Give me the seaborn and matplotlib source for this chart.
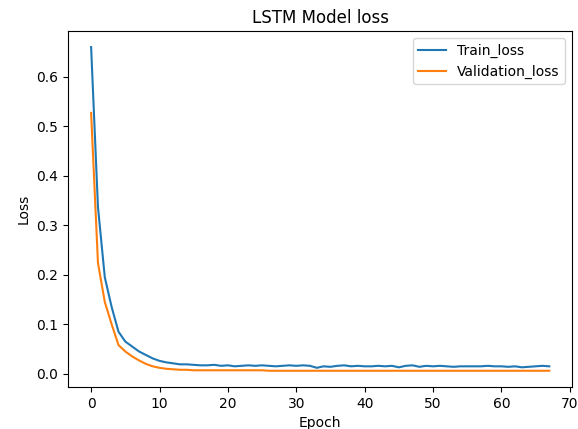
import matplotlib
matplotlib.use("Agg")
import matplotlib.pyplot as plt
import seaborn as sns
import pandas as pd

train_loss = [0.660, 0.337, 0.195, 0.135, 0.085, 0.065, 0.055, 0.045, 0.038, 0.031,
              0.026, 0.023, 0.021, 0.019, 0.019, 0.018, 0.017, 0.017, 0.018, 0.016,
              0.017, 0.015, 0.016, 0.017, 0.016, 0.017, 0.016, 0.015, 0.016, 0.017,
              0.016, 0.017, 0.016, 0.012, 0.015, 0.014, 0.016, 0.017, 0.015, 0.016,
              0.015, 0.015, 0.016, 0.015, 0.016, 0.013, 0.016, 0.017, 0.014, 0.016,
              0.015, 0.016, 0.015, 0.014, 0.015, 0.015, 0.015, 0.015, 0.016, 0.015,
              0.015, 0.014, 0.015, 0.013, 0.014, 0.015, 0.016, 0.015]
val_loss = [0.527, 0.224, 0.145, 0.100, 0.058, 0.045, 0.035, 0.027, 0.020, 0.015,
            0.012, 0.010, 0.009, 0.008, 0.008, 0.007, 0.007, 0.007, 0.007, 0.007,
            0.007, 0.007, 0.007, 0.007, 0.007, 0.007, 0.006, 0.006, 0.006, 0.006,
            0.006, 0.006, 0.006, 0.006, 0.006, 0.006, 0.006, 0.006, 0.006, 0.006,
            0.006, 0.006, 0.006, 0.006, 0.006, 0.006, 0.006, 0.006, 0.006, 0.006,
            0.006, 0.006, 0.006, 0.006, 0.006, 0.006, 0.006, 0.006, 0.006, 0.006,
            0.006, 0.006, 0.006, 0.006, 0.006, 0.006, 0.006, 0.006]
epochs = list(range(len(train_loss)))

df = pd.DataFrame({
    "Epoch": epochs + epochs,
    "Loss": train_loss + val_loss,
    "series": ["Train_loss"] * len(epochs) + ["Validation_loss"] * len(epochs),
})

fig, ax = plt.subplots(figsize=(5.78, 4.29), dpi=100)
sns.lineplot(data=df, x="Epoch", y="Loss", hue="series",
             palette=["#1f77b4", "#ff7f0e"], linewidth=1.5, ax=ax)
ax.set_xticks(range(0, 71, 10))
ax.set_yticks([0.0, 0.1, 0.2, 0.3, 0.4, 0.5, 0.6])
ax.set_title("LSTM Model loss")
ax.set_xlabel("Epoch")
ax.set_ylabel("Loss")
ax.legend(title=None, loc="upper right")
plt.subplots_adjust(left=0.118, right=0.99, top=0.928, bottom=0.098)
fig.savefig("out.png", dpi=100)
